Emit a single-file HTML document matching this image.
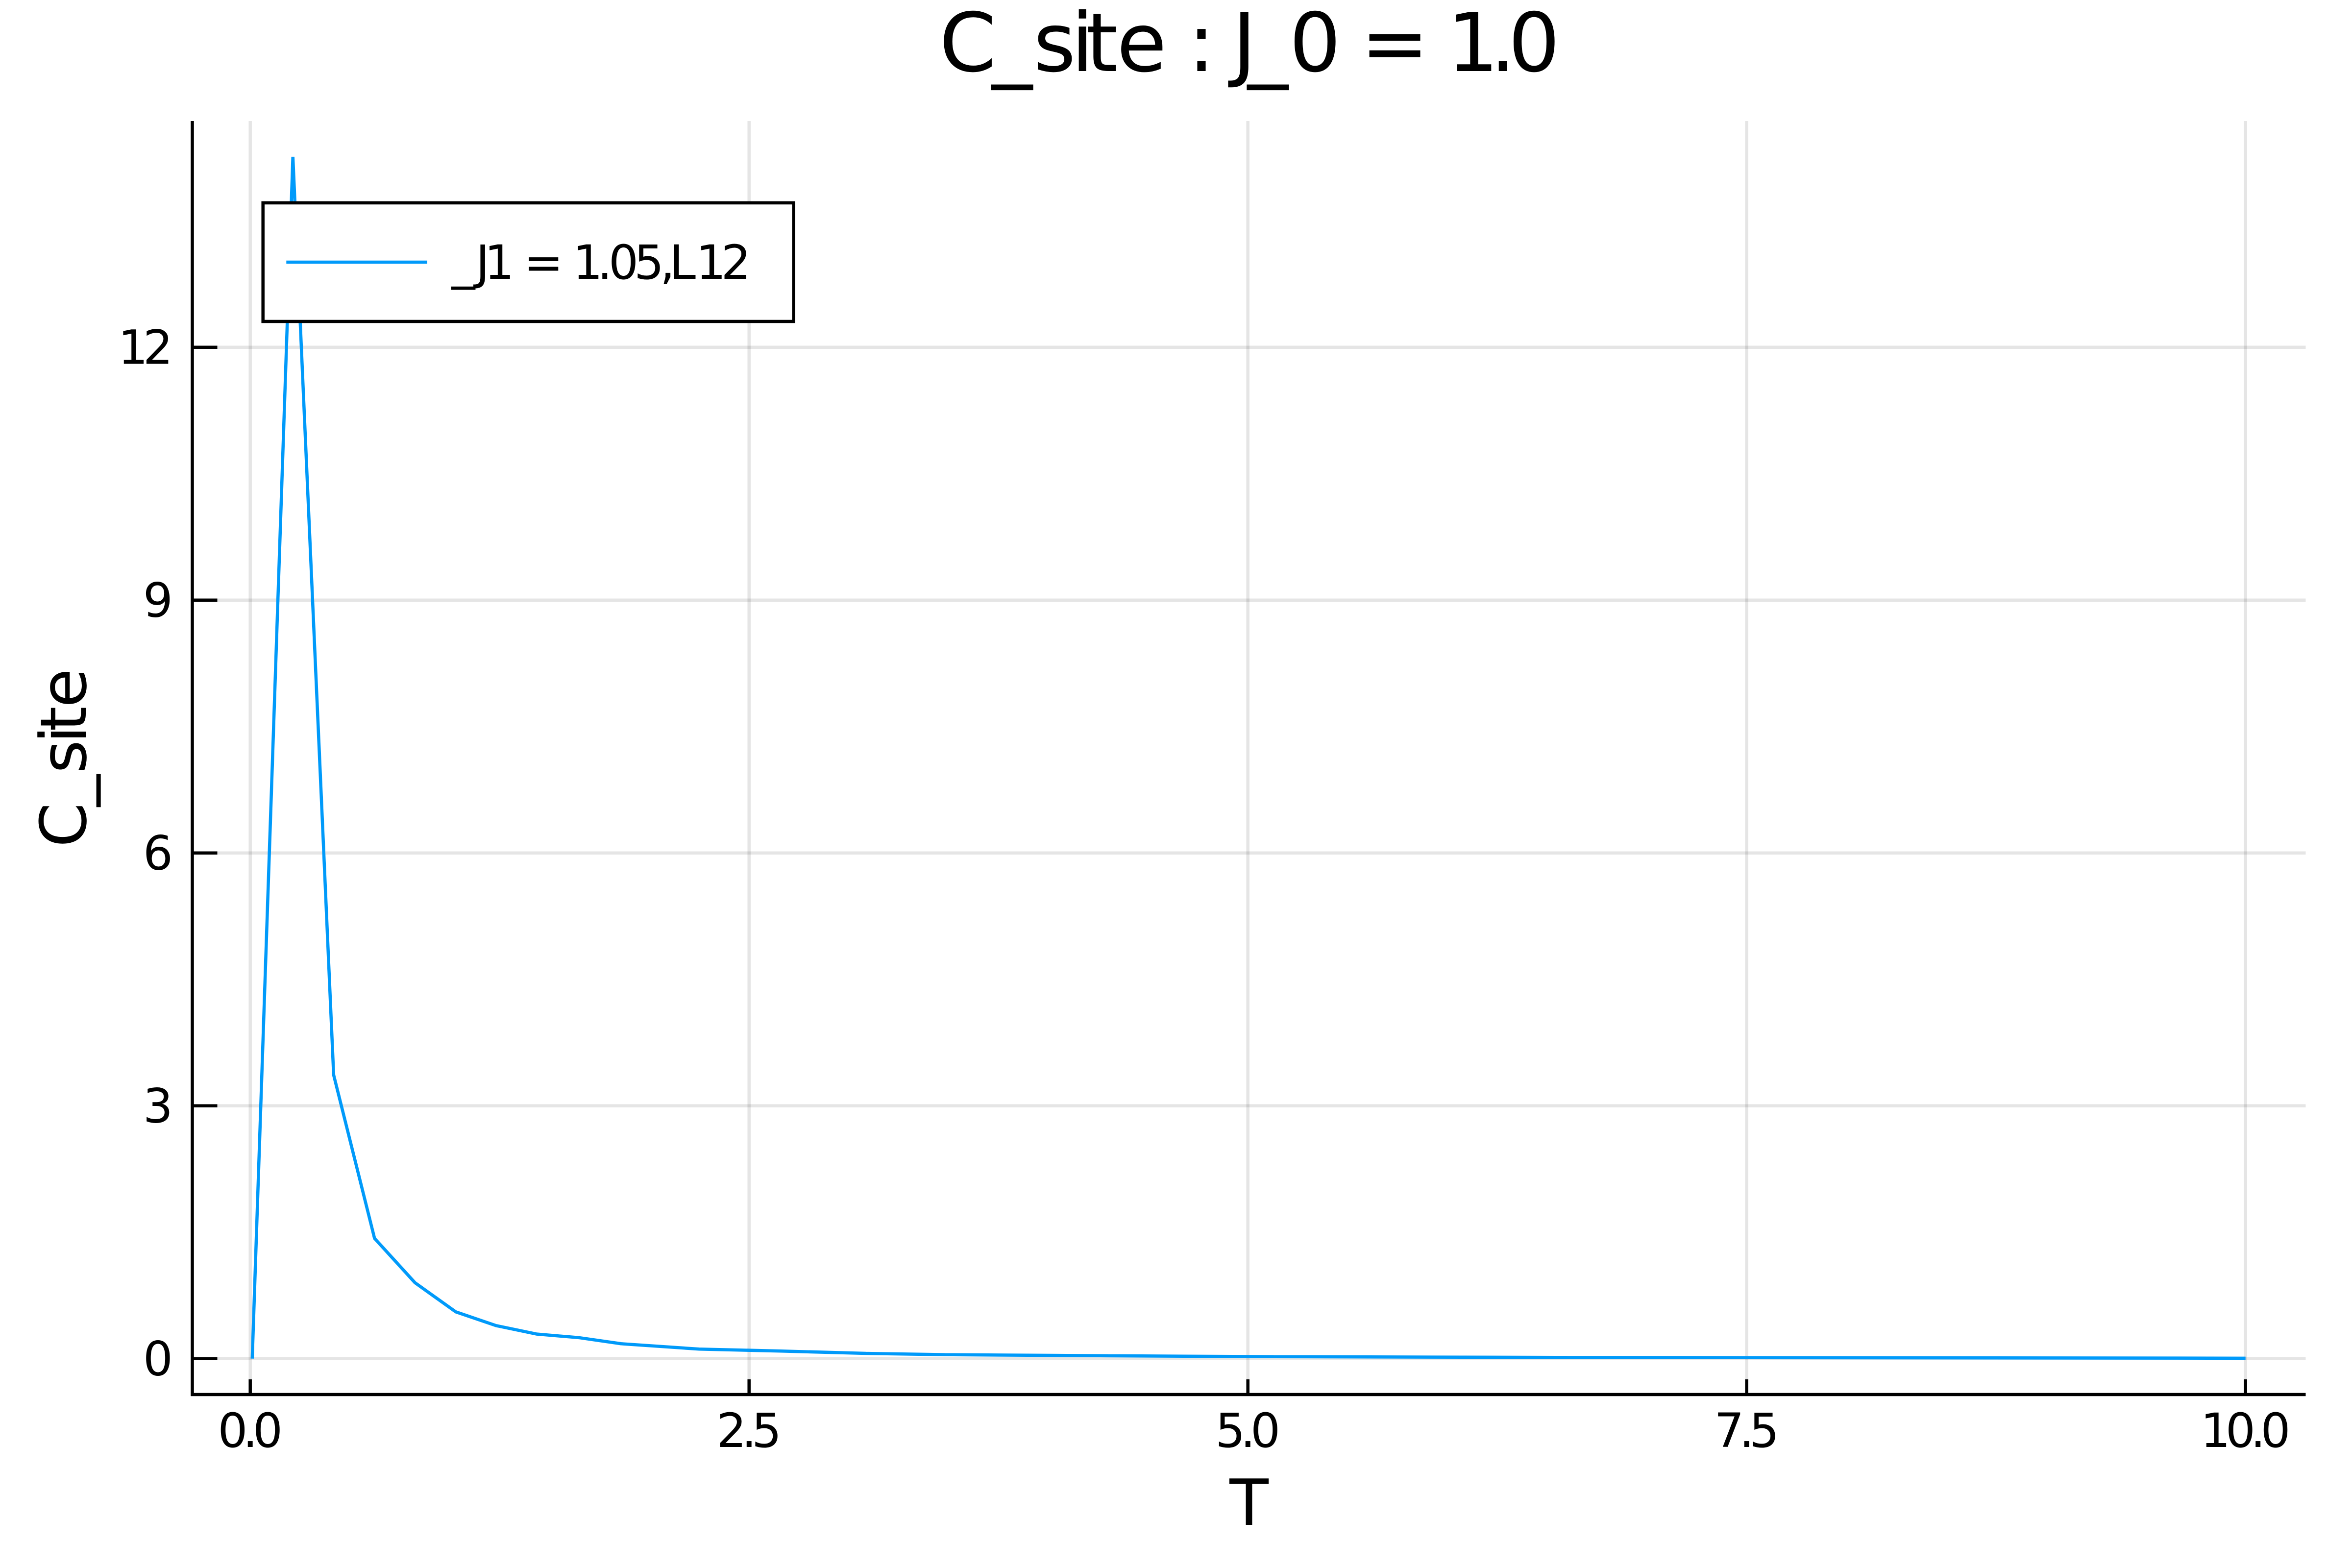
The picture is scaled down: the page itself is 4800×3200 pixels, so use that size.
<!DOCTYPE html>
<html lang="en">
<head>
<meta charset="utf-8">
<title>C_site : J_0 = 1.0</title>
<style>
html,body{margin:0;padding:0;background:#fff;width:4800px;height:3200px;overflow:hidden}
svg{display:block}
text{font-family:"DejaVu Sans","Liberation Sans",sans-serif;fill:#000}
</style>
</head>
<body>
<svg id="chart" xmlns="http://www.w3.org/2000/svg" width="4800" height="3200" viewBox="0 0 4800 3200">
  <rect x="0" y="0" width="4800" height="3200" fill="#ffffff"/>
  <text y="145" font-size="166" x="1917 2024 2109 2186 2216 2279 2390 2424 2480 2515 2546 2631 2740 2777 2920 2953 3041 3078">C_site : J_0 = 1.0</text>
  <text x="2549" y="3112" font-size="130" text-anchor="middle">T</text>
  <text transform="translate(175,1729) rotate(-90)" x="0 83 151 212 236.5 285" y="0" font-size="130">C_site</text>
  <g id="grid"></g>
  <g id="axes"></g>
  <g id="series"></g>
  <g>
    <rect x="536.7" y="414" width="1083" height="242" fill="#ffffff" stroke="#000000" stroke-width="6.5"/>
    <line x1="584.3" y1="535" x2="872" y2="535" stroke="#009AFA" stroke-width="6.5"/>
    <text y="569" font-size="96" x="921.5 971 988.5 1045 1069 1150 1169 1219 1242 1294 1347 1366.5 1420.5 1471.5">_J1 = 1.05,L12</text>
  </g>
</svg>
<script>
const temperatures = [0.01, 0.2137, 0.418, 0.623, 0.826, 1.03, 1.232, 1.434, 1.65, 1.858, 2.25, 2.66, 3.085, 3.48, 4.3, 5.13, 6.6, 9.06, 10];
const cSite = [0.0, 14.26, 3.366, 1.427, 0.9, 0.555, 0.392, 0.292, 0.248, 0.177, 0.113, 0.09, 0.062, 0.047, 0.034, 0.023, 0.014, 0.0075, 0.005];
const xTicks = [0, 2.5, 5, 7.5, 10];
const xTickLabels = ["0.0", "2.5", "5.0", "7.5", "10.0"];
const yTicks = [0, 3, 6, 9, 12];
const yTickLabels = ["0", "3", "6", "9", "12"];

const NS = "http://www.w3.org/2000/svg";
const plotLeft = 392.5, plotRight = 4705.5, plotTop = 247, plotBottom = 2846;
function xScale(v) { return 510.7 + 407.2 * v; }
function yScale(v) { return 2772.7 - 172 * v; }

function make(tag, attrs, parent) {
  const el = document.createElementNS(NS, tag);
  for (const k in attrs) el.setAttribute(k, attrs[k]);
  parent.appendChild(el);
  return el;
}

const gridG = document.getElementById("grid");
const axesG = document.getElementById("axes");
const seriesG = document.getElementById("series");
const gridStyle = { stroke: "#000000", "stroke-opacity": "0.1", "stroke-width": "6.5" };
const axisStyle = { stroke: "#000000", "stroke-width": "6.5" };

xTicks.forEach(function (t, i) {
  const px = xScale(t);
  const g = make("line", Object.assign({ x1: px, y1: plotTop, x2: px, y2: plotBottom }, gridStyle), gridG);
  
  
  const tk = make("line", Object.assign({ x1: px, y1: plotBottom, x2: px, y2: plotBottom - 31 }, axisStyle), axesG);
  
  
  const lb = make("text", { x: px - 5, y: 2953, "font-size": "96", "text-anchor": "middle", "letter-spacing": "-10" }, axesG);
  lb.textContent = xTickLabels[i];
  
  
});

yTicks.forEach(function (t, i) {
  const py = yScale(t);
  const g = make("line", Object.assign({ x1: plotLeft, y1: py, x2: plotRight, y2: py }, gridStyle), gridG);
  
  
  const tk = make("line", Object.assign({ x1: plotLeft, y1: py, x2: plotLeft + 51, y2: py }, axisStyle), axesG);
  
  
  const lb = make("text", { x: 343, y: py + 34, "font-size": "96", "text-anchor": "end", "letter-spacing": "-10" }, axesG);
  lb.textContent = yTickLabels[i];
  
  
});

const xAxis = make("line", Object.assign({ x1: plotLeft - 3, y1: plotBottom, x2: plotRight, y2: plotBottom }, axisStyle), axesG);


const yAxis = make("line", Object.assign({ x1: plotLeft, y1: plotTop, x2: plotLeft, y2: plotBottom + 3 }, axisStyle), axesG);



const pts = temperatures.map(function (t, i) {
  return xScale(t).toFixed(2) + "," + yScale(cSite[i]).toFixed(2);
}).join(" ");
const curve = make("polyline", { points: pts, fill: "none", stroke: "#009AFA", "stroke-width": "6.5", "stroke-linejoin": "bevel", "stroke-linecap": "butt" }, seriesG);


</script>
</body>
</html>
